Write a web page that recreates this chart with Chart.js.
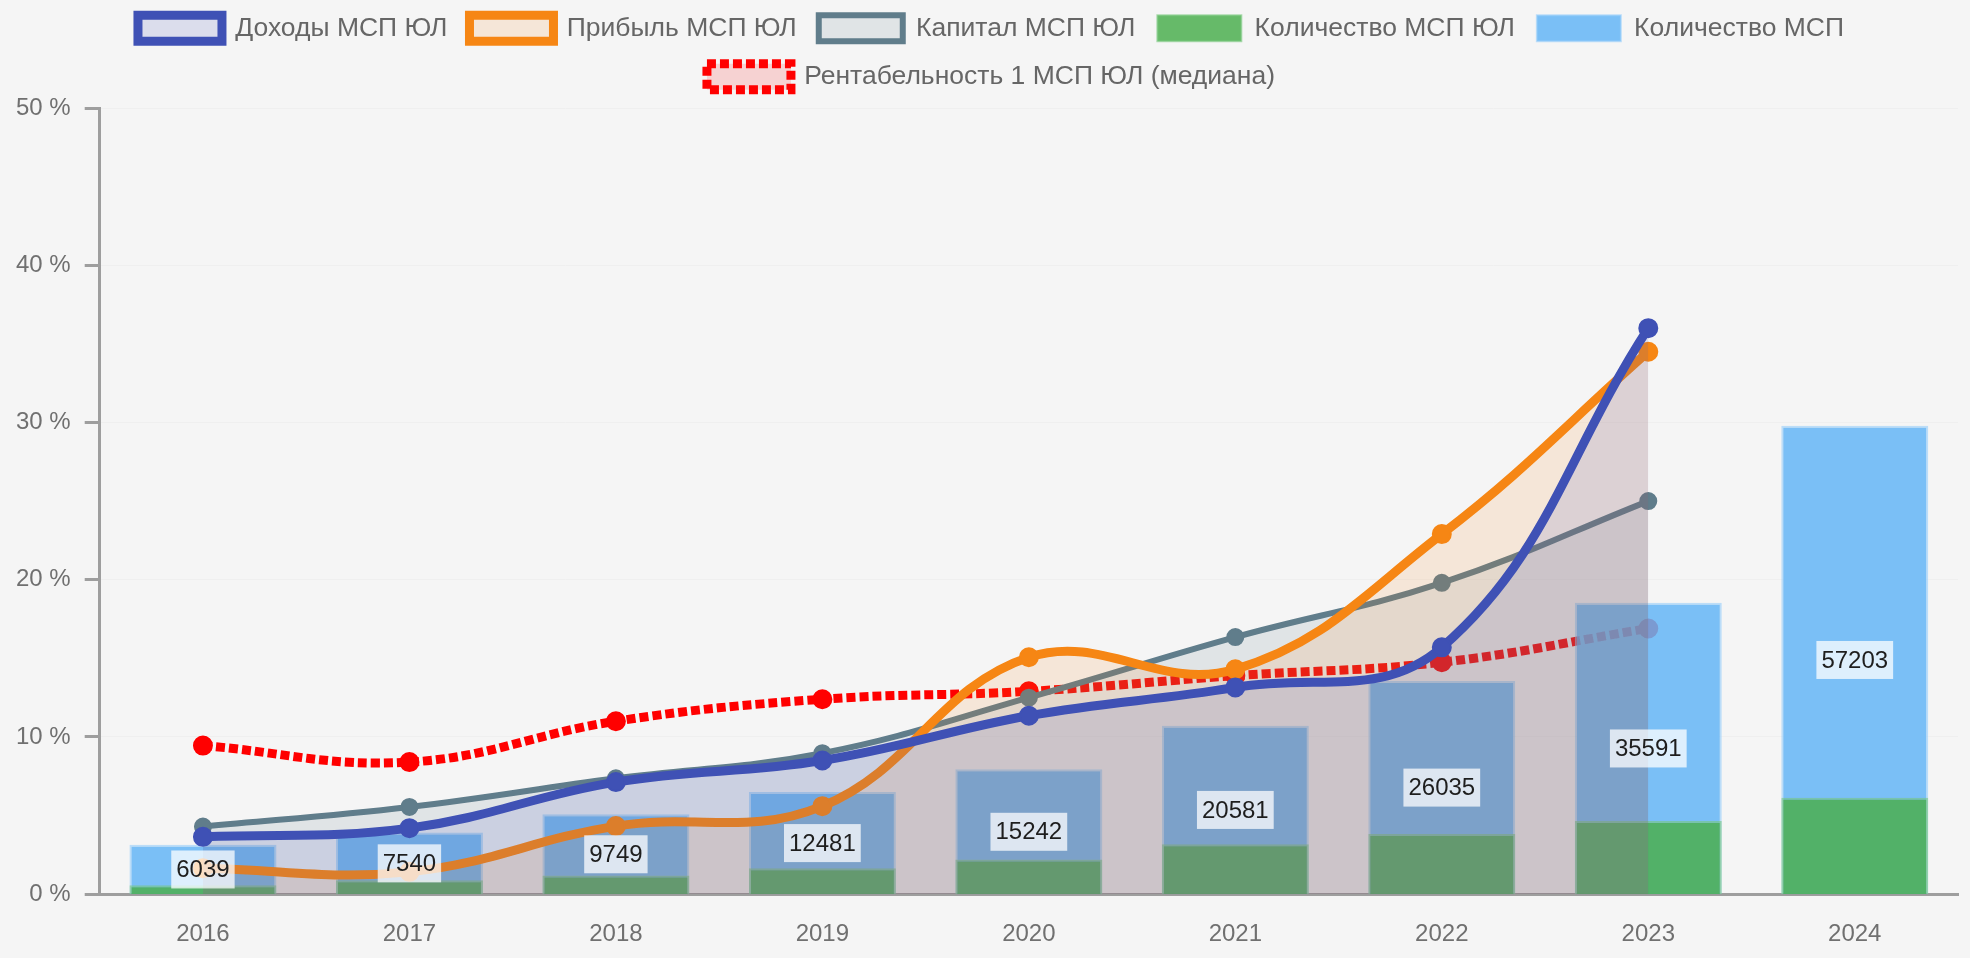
<!DOCTYPE html>
<html>
<head>
<meta charset="utf-8">
<script src="https://cdn.jsdelivr.net/npm/chart.js@4.4.1/dist/chart.umd.min.js"></script>
<style>
  html, body { margin: 0; padding: 0; background: #f5f5f5; overflow: hidden; }
  #wrap { position: relative; width: 1970px; height: 958px; }
  canvas { display: block; background: #f5f5f5; }
</style>
</head>
<body>
<div id="wrap"><canvas id="c" width="1970" height="958"></canvas></div>
<script>
// ---- data ----
const years = ['2016', '2017', '2018', '2019', '2020', '2021', '2022', '2023', '2024'];
const incomeSME = [3.65, 4.2, 7.13, 8.5, 11.35, 13.15, 15.7, 36.0];     // Доходы МСП ЮЛ, %
const profitSME = [1.65, 1.42, 4.33, 5.6, 15.07, 14.3, 22.9, 34.5];     // Прибыль МСП ЮЛ, %
const capitalSME = [4.3, 5.55, 7.37, 8.97, 12.5, 16.35, 19.8, 25.0];    // Капитал МСП ЮЛ, %
const profitability = [9.45, 8.4, 11.0, 12.4, 12.9, 13.9, 14.75, 16.9]; // Рентабельность, %
const countSMELegal = [1100, 1710, 2270, 3180, 4250, 6090, 7350, 8940, 11790]; // Количество МСП ЮЛ
const countSME = [6039, 7540, 9749, 12481, 15242, 20581, 26035, 35591, 57203]; // Количество МСП
const yTicks = [0, 10, 20, 30, 40, 50];

const FONT = "'Liberation Sans', Arial, Helvetica, sans-serif";

const barLabels = {
  id: 'barLabels',
  afterDatasetsDraw(chart) {
    const meta = chart.getDatasetMeta(4);
    const ctx = chart.ctx;
    ctx.save();
    ctx.font = '24px ' + FONT;
    ctx.textAlign = 'center';
    ctx.textBaseline = 'middle';
    meta.data.forEach((bar, i) => {
      const p = bar.getProps(['x', 'y', 'base'], true);
      const cy = (p.y + p.base) / 2;
      const text = String(countSME[i]);
      const w = ctx.measureText(text).width + 10;
      const h = 38;
      ctx.fillStyle = 'rgba(255,255,255,0.74)';
      ctx.fillRect(p.x - w / 2, cy - h / 2, w, h);
      ctx.fillStyle = '#1e1e1e';
      ctx.fillText(text, p.x, cy + 1);
    });
    ctx.restore();
  }
};

const legendFit = {
  id: 'legendFit',
  beforeUpdate(chart) {
    const lg = chart.legend;
    if (lg && !lg._patched) {
      const orig = lg.fit;
      lg.fit = function () { orig.call(this); this.height += 8; };
      const origDraw = lg.draw;
      lg.draw = function () {
        const ctx = this.ctx;
        ctx.save();
        ctx.translate(11, 0);
        origDraw.apply(this, arguments);
        ctx.restore();
      };
      lg._patched = true;
    }
  }
};

new Chart(document.getElementById('c'), {
  data: {
    labels: years,
    datasets: [
      {
        type: 'line', label: 'Доходы МСП ЮЛ', data: incomeSME, yAxisID: 'y', order: 1,
        borderColor: '#3f51b5', backgroundColor: 'rgba(63,81,181,0.14)', borderWidth: 9,
        fill: 'origin', tension: 0.4,
        pointRadius: 9, pointBorderWidth: 2, pointBackgroundColor: '#3f51b5', pointBorderColor: '#3f51b5'
      },
      {
        type: 'line', label: 'Прибыль МСП ЮЛ', data: profitSME, yAxisID: 'y', order: 2,
        borderColor: 'rgb(246,134,20)', backgroundColor: 'rgba(246,134,20,0.13)', borderWidth: 9,
        fill: 'origin', tension: 0.4,
        pointRadius: 9, pointBorderWidth: 2, pointBackgroundColor: 'rgb(246,134,20)', pointBorderColor: 'rgb(246,134,20)'
      },
      {
        type: 'line', label: 'Капитал МСП ЮЛ', data: capitalSME, yAxisID: 'y', order: 3,
        borderColor: '#607d8b', backgroundColor: 'rgba(96,125,139,0.14)', borderWidth: 6,
        fill: 'origin', tension: 0.4,
        pointRadius: 8, pointBorderWidth: 2, pointBackgroundColor: '#607d8b', pointBorderColor: '#607d8b'
      },
      {
        type: 'bar', label: 'Количество МСП ЮЛ', data: countSMELegal, yAxisID: 'y1', order: 5,
        backgroundColor: 'rgba(76,175,80,0.85)', borderColor: 'rgba(120,200,125,0.6)', borderWidth: 2,
        grouped: false, barPercentage: 0.89, categoryPercentage: 0.8
      },
      {
        type: 'bar', label: 'Количество МСП', data: countSME, yAxisID: 'y1', order: 6,
        backgroundColor: 'rgba(100,181,246,0.85)', borderColor: 'rgba(150,205,250,0.6)', borderWidth: 2,
        grouped: false, barPercentage: 0.89, categoryPercentage: 0.8
      },
      {
        type: 'line', label: 'Рентабельность 1 МСП ЮЛ (медиана)', data: profitability, yAxisID: 'y', order: 7,
        borderColor: 'rgb(255,0,0)', backgroundColor: 'rgba(255,0,0,0.14)', borderWidth: 9,
        borderDash: [9, 4], fill: false, tension: 0.4,
        pointRadius: 9, pointBorderWidth: 2, pointBackgroundColor: 'rgb(255,0,0)', pointBorderColor: 'rgb(255,0,0)'
      }
    ]
  },
  options: {
    responsive: false,
    animation: false,
    devicePixelRatio: 1,
    layout: { padding: { top: -7, left: 2, right: 12, bottom: -17 } },
    plugins: {
      legend: {
        position: 'top',
        labels: {
          boxWidth: 84, boxHeight: 26, padding: 22,
          color: '#666', font: { size: 26.5, family: FONT }
        }
      },
      tooltip: { enabled: false }
    },
    scales: {
      x: {
        offset: true,
        grid: { display: false, drawTicks: false },
        border: { display: true, color: '#9e9e9e', width: 3 },
        ticks: { color: '#707070', font: { size: 24, family: FONT }, padding: 26 }
      },
      y: {
        position: 'left',
        min: yTicks[0], max: yTicks[yTicks.length - 1],
        afterBuildTicks: (s) => { s.ticks = yTicks.map(v => ({ value: v })); },
        grid: { color: 'rgba(0,0,0,0.025)', lineWidth: 1, tickLength: 15, tickColor: '#9e9e9e', tickWidth: 3 },
        border: { display: true, color: '#9e9e9e', width: 3 },
        ticks: { color: '#707070', font: { size: 24, family: FONT }, padding: 14, callback: (v) => v + ' %' }
      },
      y1: {
        display: false, min: 0, max: 96000
      }
    }
  },
  plugins: [barLabels, legendFit]
});
</script>
</body>
</html>
